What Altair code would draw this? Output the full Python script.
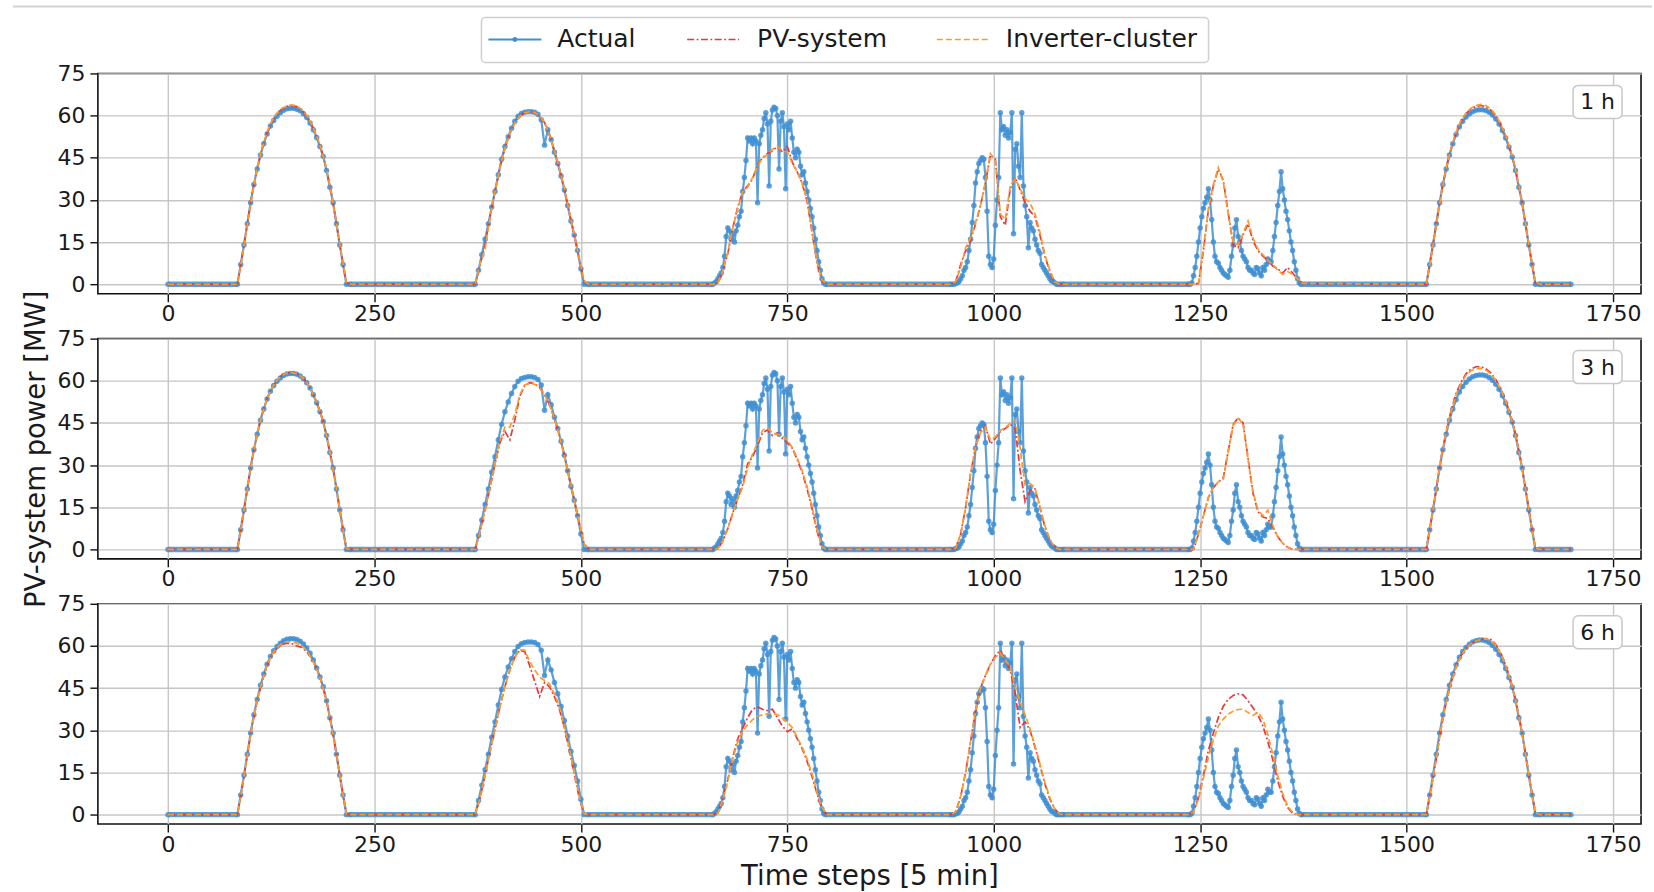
import altair as alt
import pandas as pd

# ---------------- data ----------------
DAY_START = [84, 372, 660, 948, 1236, 1524]   # first sample of each daylight window
LAST_STEP = 1699
ACT_STEPS = [4, 4, 2, 2, 2, 4]   # sampling step of the actual series inside each daylight window
FC_STEP = 6                       # forecasts sampled every 6 time steps inside daylight windows
HORIZONS = ["1 h", "3 h", "6 h"]

NIGHT_START = [0, 220, 508, 796, 1084, 1372, 1660]
NIGHT_END = [84, 372, 660, 948, 1236, 1524, 1699]
NIGHT_POWER = [0, 0, 0, 0, 0, 0, 0]

ACTUAL = [
    [0, 7, 14, 21.5, 29, 35.5, 41, 46, 50, 53.5, 56.3, 58.3, 59.8, 61, 61.9, 62.4, 62.6, 62.6, 62.3, 61.7,
     60.7, 59.3, 57.4, 55, 52.2, 49, 45.5, 40.5, 34.5, 29, 21.5, 14, 7, 0, 0],
    [0, 5, 10.5, 16, 21.5, 27.5, 33, 39, 44.5, 49, 52.5, 55.5, 58, 59.8, 60.8, 61.2, 61.4, 61.4, 61.2, 60.5,
     58.5, 49.5, 55, 51.5, 47, 43, 38.5, 33.5, 28, 22.5, 17.5, 12, 5.5, 0, 0],
    [0, 0.5, 1, 2, 3, 4, 6, 10, 17, 20,
     19, 16, 18, 15, 19, 21, 24, 26, 33, 38,
     44, 52, 51, 52, 50, 52, 51, 29, 50, 53,
     55, 59, 61, 57, 35, 58, 62, 63, 62.5, 60,
     41, 58, 61, 56, 34, 57, 55, 58, 52, 47,
     45, 48, 47, 42, 39, 40, 36, 33, 30, 27,
     24, 20, 16, 12, 8, 5, 2, 0.5, 0],
    [0, 0, 0, 0.3, 0.5, 1, 2, 3, 5, 6,
     8, 12, 16, 22, 28, 36, 40, 43, 44, 45,
     44.5, 38, 26, 10, 7, 6, 9, 21, 30, 38,
     61, 55, 56, 53, 55, 52, 54, 61, 18, 48,
     50, 42, 38, 61, 35, 28, 24, 13, 22, 20,
     19, 16, 14, 12, 11, 7, 6, 5, 4, 3,
     2, 1.2, 1, 0.5, 0, 0, 0, 0, 0],
    [0, 0, 0.5, 3, 6, 10, 15, 20, 24, 27,
     29, 31, 34, 30, 23, 15, 10, 8, 7.5, 6,
     5, 4, 3.5, 3, 2.5, 5, 10, 14, 20, 23,
     17, 15, 12, 10, 9, 8, 6, 5, 5, 4,
     3.5, 6, 5.5, 4, 3, 6, 5, 7, 9, 8,
     8, 12, 17, 22, 28, 33, 40, 34, 30, 26,
     23, 19, 15, 12, 8, 5, 2, 0.5, 0],
    [0, 7, 14, 21.5, 29, 35.5, 41, 46, 50, 53.3, 56, 58, 59.5, 60.6, 61.4, 61.9, 62.1, 62.1, 61.8, 61.2,
     60.2, 58.8, 57, 54.7, 52, 48.8, 45.3, 40.5, 34.5, 29, 21.5, 14, 7, 0, 0],
]

PV_SYSTEM = {
    "1 h": [
        [0, 10.5, 21.5, 32.5, 41.5, 48.5, 54, 58, 60.7, 62.4, 63.3, 63.6, 63.2, 62, 60, 56.8, 52.7, 47.6, 40.8, 32, 21.5, 10.5, 0.5, 0],
        [0, 7, 14, 24, 33, 41.5, 48.5, 53.5, 57.5, 59.8, 61, 61.3, 61, 59.8, 57.5, 53, 47.5, 41, 34, 25.5, 17.5, 9, 1, 0],
        [0, 0.5, 5, 11, 20, 27.5, 33, 35, 37.5, 42.5, 45, 46.5, 47.5, 49, 47, 49, 43.5, 40, 36, 29.5, 18.5, 7.5, 1, 0],
        [0, 1, 7, 12, 15.5, 21.5, 28, 36, 46, 44.5, 24, 21, 34, 38, 33.5, 29, 26, 24, 17.5, 10, 4.5, 0.5, 0, 0],
        [0, 0, 0.3, 12, 26.5, 35, 41, 37, 25.5, 14, 13, 17.5, 21.5, 15.5, 12, 10, 8.5, 6.5, 5.5, 4, 6, 4, 2, 0.3],
        [0, 10.5, 21.5, 32.5, 41.5, 48.5, 54, 58, 60.7, 62.4, 63.3, 63.6, 63.2, 62, 60, 56.8, 52.7, 47.6, 40.8, 32, 21.5, 10.5, 0.5, 0],
    ],
    "3 h": [
        [0, 10.5, 21.5, 32.5, 41.3, 48.3, 53.8, 57.7, 60.3, 62, 62.8, 63, 62.6, 61.5, 59.5, 56.4, 52.4, 47.4, 40.6, 31.8, 21.5, 10.5, 0.3, 0],
        [0, 6.5, 14, 22, 30.5, 38, 42, 39, 46, 54.5, 58.3, 59.3, 59, 57.6, 55, 51.5, 46.5, 40.5, 33.5, 25.5, 17.5, 9.5, 2, 0],
        [0, 0.3, 3, 7.5, 13, 18, 23, 30.5, 33, 37, 41.5, 42.5, 40.5, 41.5, 39.5, 38, 36, 32, 27.5, 21.5, 14.5, 6.5, 1, 0],
        [0, 0.5, 5.5, 15, 27, 36.5, 42, 44, 37.5, 39.5, 42, 43, 44.5, 43, 28, 17, 21, 21.5, 15, 8, 3.5, 0.8, 0, 0],
        [0, 0, 5.5, 12, 18.5, 22, 24, 25.5, 35, 44.5, 46.8, 45, 32.5, 20, 13.5, 11.5, 11, 8, 4.5, 2.2, 0.8, 0, 0, 0],
        [0, 10.5, 21.5, 33, 42, 49.5, 55.5, 59.5, 62.5, 64.2, 65, 65, 64.3, 62.8, 60.5, 57.2, 53, 47.8, 41, 32.2, 21.8, 10.8, 0.5, 0],
    ],
    "6 h": [
        [0, 10, 21, 32, 40.5, 47.5, 53, 56.8, 59.2, 60.5, 61, 60.8, 60, 59.5, 58, 55.5, 51.8, 47, 40.3, 31.6, 21.3, 10.3, 0.3, 0],
        [0, 6, 14, 22.5, 30.5, 38.5, 45.5, 51.5, 56, 58.4, 58, 53, 47.5, 42, 47, 45.5, 42, 37.5, 31, 23, 14.5, 6, 0, 0],
        [0, 0.5, 6, 12.5, 20.5, 27, 30.8, 34.5, 37.5, 38.3, 37.5, 37, 37.5, 34.5, 31.5, 29.5, 30.5, 27, 23.5, 19, 13.5, 7.5, 2, 0],
        [0, 1, 6.5, 15, 26, 37, 45, 49.5, 53.5, 56.5, 58.4, 55, 51.5, 43, 31, 33, 30, 24, 17.5, 11, 5.5, 2, 0.2, 0],
        [0, 1, 6, 14, 22.9, 29, 34.5, 38.5, 41, 42.4, 43, 42.6, 40.5, 38, 35.5, 31.5, 26, 19.5, 12, 6.5, 2.5, 0.5, 0, 0],
        [0, 9.5, 20, 31, 40, 47, 52.6, 56.6, 59.2, 60.8, 61.7, 62.2, 62.6, 62.3, 60.6, 57.5, 53.2, 47.9, 41, 32.2, 21.8, 10.8, 0.8, 0],
    ],
}

INVERTER_CLUSTER = {
    "1 h": [
        [0, 10, 21, 32, 41.5, 48.5, 54.2, 58.2, 60.9, 62.6, 63.5, 63.8, 63.4, 62.2, 60.1, 56.9, 52.8, 47.7, 40.9, 32.2, 21.8, 10.8, 0.8, 0],
        [0, 7.5, 12.5, 24, 33, 41.5, 48.5, 53.5, 57.5, 59.8, 61, 61.4, 61.1, 59.9, 57.6, 53.2, 47.6, 41.2, 34.2, 25.7, 17.8, 9.2, 1.2, 0],
        [0, 0.5, 5, 11.5, 20, 27, 33, 34.5, 38, 42, 45, 46, 48, 49, 47.5, 47, 43, 40, 36, 30, 19, 8, 1.5, 0],
        [0, 1, 6, 13, 16.5, 22, 28, 36.5, 46.5, 44, 25, 23, 35, 37.5, 34, 30.5, 29, 25, 18.5, 10.5, 5, 0.8, 0, 0],
        [0, 0, 0.5, 13, 27, 35.5, 41.5, 36.5, 25, 15, 14, 18, 22.5, 16.5, 12.5, 10.5, 8.5, 7, 5, 3.5, 4.5, 3.5, 2, 0.3],
        [0, 10, 21, 32, 41.5, 48.5, 54.2, 58.2, 60.9, 62.6, 63.6, 64, 63.6, 62.3, 60.2, 57, 52.9, 47.8, 41, 32.2, 21.8, 10.8, 0.8, 0],
    ],
    "3 h": [
        [0, 10.3, 21.3, 32.3, 41.2, 48.2, 53.7, 57.6, 60.2, 61.9, 62.7, 62.9, 62.5, 61.4, 59.4, 56.3, 52.3, 47.3, 40.5, 31.7, 21.4, 10.4, 0.3, 0],
        [0, 6.5, 14, 22, 30.5, 38.5, 43.5, 43.5, 48, 55, 58.5, 59.2, 58.8, 57.5, 55, 51.5, 46.5, 40.5, 33.5, 25.5, 17.5, 9.5, 2, 0],
        [0, 0.3, 3, 7.5, 13, 18, 22.3, 29, 34, 38, 42.4, 43.2, 41.5, 41, 40.5, 38.9, 36.3, 32.5, 28, 22.3, 15.2, 7, 1, 0],
        [0, 0.5, 5.5, 15, 27, 36.5, 41.5, 43.5, 39, 40, 42.4, 43.2, 45, 46, 36, 23, 23.5, 22, 15.2, 8.5, 3.5, 0.8, 0, 0],
        [0, 0, 5.5, 12, 18.5, 22, 24, 25, 34.7, 44.2, 46.6, 44.8, 32, 20.5, 14, 12, 14, 8.5, 4.5, 2.2, 0.8, 0, 0, 0],
        [0, 10.3, 21.3, 32.8, 41.8, 49.2, 55, 59, 62, 63.6, 64.3, 64.4, 63.8, 62.4, 60.2, 57, 52.8, 47.6, 40.8, 32, 21.6, 10.6, 0.5, 0],
    ],
    "6 h": [
        [0, 10, 21, 32, 40.6, 47.6, 53.2, 57, 59.5, 60.9, 61.5, 61.5, 61, 60, 58.3, 55.6, 51.9, 47.1, 40.4, 31.7, 21.4, 10.4, 0.3, 0],
        [0, 6, 14, 22.5, 30.5, 38.5, 45.5, 51.5, 56, 58.6, 58.5, 54.5, 51.5, 49, 47.7, 46.5, 43, 38.5, 31.5, 23.5, 15, 6.5, 0.3, 0],
        [0, 0.5, 5.5, 12, 20, 26, 29.8, 32, 33.8, 35, 35.5, 35.9, 36, 35.6, 34.3, 32.8, 31, 27.5, 24, 19.8, 14.5, 8, 2.5, 0],
        [0, 1, 6.5, 15, 26, 37, 45, 49.5, 53.5, 56, 57.5, 55, 52.5, 45.4, 40, 35.5, 30.5, 24.5, 18.1, 11.5, 6, 2, 0.2, 0],
        [0, 1, 5.5, 13, 20.5, 26.5, 31.5, 34, 35.8, 36.8, 37.4, 37.5, 36.3, 35.3, 36.5, 34, 28.5, 21.5, 14, 7.5, 3, 0.8, 0, 0],
        [0, 9.5, 20, 31, 40, 47, 52.5, 56.5, 59.2, 60.8, 61.8, 62.3, 62.5, 62.1, 60.4, 57.3, 53, 47.7, 40.8, 32, 21.6, 10.6, 0.6, 0],
    ],
}

X_TICKS = [0, 250, 500, 750, 1000, 1250, 1500, 1750]
Y_TICKS = [0, 15, 30, 45, 60, 75]
LEGEND_LABELS = ["Actual", "PV-system", "Inverter-cluster"]

# ---------------- styling ----------------
BLUE = "#3f8fd2"
RED = "#e8383d"
ORANGE = "#fd9a2c"
FONT = "DejaVu Sans"
TXT = "#1a1a1a"
W = 1545
H = 220.5
XS = alt.Scale(domain=[-84.95, 1783.95], nice=False, zero=False)
YS = alt.Scale(domain=[-3.35, 75], nice=False, zero=False)


def series_frame(days, steps):
    t, v = [0], [0.0]
    for start, step, vals in zip(DAY_START, steps, days):
        for i, val in enumerate(vals):
            t.append(start + step * i)
            v.append(val)
    t.append(LAST_STEP)
    v.append(0.0)
    return pd.DataFrame({"t": t, "v": v})


actual_df = series_frame(ACTUAL, ACT_STEPS)
night_df = pd.DataFrame({"s": NIGHT_START, "e": NIGHT_END, "z": NIGHT_POWER})
one = pd.DataFrame({"k": [0]})
FC_STEPS = [FC_STEP] * len(DAY_START)


def panel(idx, h):
    xt = "Time steps [5 min]" if idx == 2 else None
    yt = "PV-system power [MW]" if idx == 1 else None
    xax = alt.Axis(values=X_TICKS, title=xt, labelFlush=False, format="d")
    yax = alt.Axis(values=Y_TICKS, title=yt, labelFlush=False, format="d")
    X = alt.X("t:Q", scale=XS, axis=xax)
    Y = alt.Y("v:Q", scale=YS, axis=yax)

    band = alt.Chart(night_df).mark_rule(color=BLUE, strokeWidth=5.5, opacity=0.85).encode(
        x=alt.X("s:Q", scale=XS, axis=xax), x2="e:Q", y=alt.Y("z:Q", scale=YS, axis=yax))
    act_line = alt.Chart(actual_df).mark_line(color=BLUE, strokeWidth=2.2, opacity=0.85).encode(x=X, y=Y)
    act_pts = alt.Chart(actual_df).mark_circle(color=BLUE, size=30, opacity=0.85).encode(x=X, y=Y)
    pv_line = alt.Chart(series_frame(PV_SYSTEM[h], FC_STEPS)).mark_line(
        color=RED, strokeWidth=1.7, strokeDash=[7, 2.5, 1.8, 2.5]).encode(x=X, y=Y)
    inv_line = alt.Chart(series_frame(INVERTER_CLUSTER[h], FC_STEPS)).mark_line(
        color=ORANGE, strokeWidth=1.7, strokeDash=[6, 3]).encode(x=X, y=Y)

    lab_box = alt.Chart(one).mark_rect(fill="white", stroke="#c8c8c8", strokeWidth=1.5, cornerRadius=5).encode(
        x=alt.value(1477), x2=alt.value(1526), y=alt.value(12), y2=alt.value(45))
    lab_txt = alt.Chart(one).mark_text(font=FONT, fontSize=22, color=TXT, align="center", baseline="middle").encode(
        x=alt.value(1501.5), y=alt.value(29), text=alt.value(h))

    layers = [band, act_line, act_pts, pv_line, inv_line, lab_box, lab_txt]

    if idx == 0:
        top_line = alt.Chart(one).mark_rule(color="#d2d2d2", strokeWidth=2).encode(
            x=alt.value(-85), x2=alt.value(1556), y=alt.value(-67))
        leg_box = alt.Chart(one).mark_rect(fill="white", stroke="#d0d0d0", strokeWidth=1.5, cornerRadius=4).encode(
            x=alt.value(384), x2=alt.value(1112), y=alt.value(-56), y2=alt.value(-11))
        s1 = alt.Chart(one).mark_rule(color=BLUE, strokeWidth=1.8).encode(
            x=alt.value(391), x2=alt.value(444), y=alt.value(-34))
        s1p = alt.Chart(one).mark_circle(color=BLUE, size=24, opacity=1).encode(
            x=alt.value(417.5), y=alt.value(-34))
        s2 = alt.Chart(one).mark_rule(color=RED, strokeWidth=1.7, strokeDash=[7, 2.5, 1.8, 2.5]).encode(
            x=alt.value(590), x2=alt.value(642), y=alt.value(-34))
        s3 = alt.Chart(one).mark_rule(color=ORANGE, strokeWidth=1.7, strokeDash=[6, 3]).encode(
            x=alt.value(840), x2=alt.value(892), y=alt.value(-34))
        texts = [
            alt.Chart(one).mark_text(font=FONT, fontSize=25, color=TXT, align="left", baseline="middle").encode(
                x=alt.value(px), y=alt.value(-34), text=alt.value(lbl))
            for px, lbl in zip([460, 660, 909], LEGEND_LABELS)
        ]
        layers += [top_line, leg_box, s1, s1p, s2, s3] + texts

    return alt.layer(*layers).properties(width=W, height=H)


chart = alt.vconcat(*[panel(i, h) for i, h in enumerate(HORIZONS)], spacing=44.5, bounds="flush").properties(
    padding={"left": 11, "top": 4, "right": 0, "bottom": 2}
).configure_view(
    stroke="#111111", strokeWidth=1.6
).configure_axis(
    domain=False, grid=True, gridColor="#c6c6c6", gridWidth=1.4,
    ticks=True, tickColor="#111111", tickSize=8, tickWidth=1.4,
    labelFont=FONT, labelFontSize=22, labelColor=TXT,
    titleFont=FONT, titleFontSize=27.5, titleFontWeight="normal", titleColor=TXT
).configure_axisX(labelPadding=2, titlePadding=8).configure_axisY(labelPadding=5, titlePadding=6)

chart.save("out.html", embed_options={"renderer": "svg", "actions": False})
